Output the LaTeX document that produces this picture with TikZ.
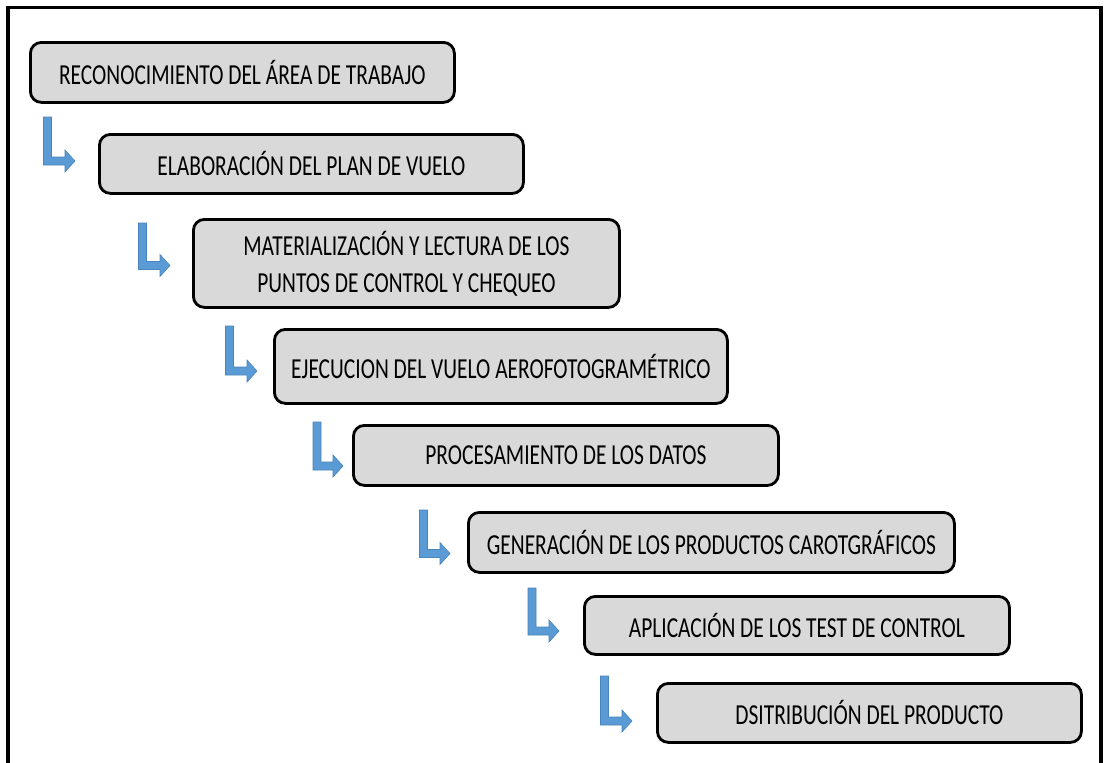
\documentclass[tikz,border=0pt]{standalone}
\usepackage{fontspec}
\setmainfont{Carlito}[FakeStretch=0.74]
\definecolor{boxgray}{HTML}{D9D9D9}
\definecolor{arrblue}{HTML}{5B9BD5}
\definecolor{arredge}{HTML}{4A84BC}
\tikzset{
  stepbox/.style={draw=black, line width=2.8pt, fill=boxgray, rounded corners=11pt,
    inner sep=0pt, anchor=north west, align=center, text=black,
    font=\fontsize{29}{37}\selectfont},
  bentarrow/.style={fill=arrblue, draw=arredge, line width=0.6pt}
}
% #1 = x of vertical bar centre, #2 = top y, #3 = y of horizontal bar centre, #4 = x of tip, #5 = name of tip
\newcommand\bentarr[5]{%
  \coordinate (#5) at (#4,#3);
  \path[bentarrow] (#1-4,#2) -- (#1+4,#2) -- (#1+4,#3-4) -- (#4-10,#3-4) -- (#4-10,#3-11)
    -- (#5) -- (#4-10,#3+11) -- (#4-10,#3+4) -- (#1-4,#3+4) -- cycle;}
\begin{document}
\begin{tikzpicture}[x=1pt,y=-1pt]
\useasboundingbox[fill=white] (0,0) rectangle (1104,763);
\draw[line width=3.5pt] (8,763) -- (8,7.5) -- (1101,7.5) -- (1101,763);

\node[stepbox, minimum width=424pt, minimum height=60pt] (b1) at (29,41) {RECONOCIMIENTO DEL ÁREA DE TRABAJO};
\node[stepbox, minimum width=424pt, minimum height=59pt] (b2) at (98,133) {ELABORACIÓN DEL PLAN DE VUELO};
\node[stepbox, minimum width=426pt, minimum height=88pt] (b3) at (192,218) {MATERIALIZACIÓN Y LECTURA DE LOS\\PUNTOS DE CONTROL Y CHEQUEO};
\node[stepbox, minimum width=453pt, minimum height=74pt] (b4) at (273,328) {EJECUCION DEL VUELO AEROFOTOGRAMÉTRICO};
\node[stepbox, minimum width=425pt, minimum height=60pt] (b5) at (352,424) {PROCESAMIENTO DE LOS DATOS};
\node[stepbox, minimum width=486pt, minimum height=60pt] (b6) at (467,511) {GENERACIÓN DE LOS PRODUCTOS CAROTGRÁFICOS};
\node[stepbox, minimum width=425pt, minimum height=58pt] (b7) at (583,595) {APLICACIÓN DE LOS TEST DE CONTROL};
\node[stepbox, minimum width=424pt, minimum height=59pt] (b8) at (656,682) {DSITRIBUCIÓN DEL PRODUCTO};

\bentarr{47.5}{117}{161}{75}{t1}
\bentarr{142.5}{223}{265.5}{170}{t2}
\bentarr{229.5}{326}{371}{257}{t3}
\bentarr{317}{422}{466}{343}{t4}
\bentarr{423.5}{510}{553.5}{450}{t5}
\bentarr{532}{588}{631}{559}{t6}
\bentarr{604.5}{676}{721}{632}{t7}
\end{tikzpicture}
\end{document}
